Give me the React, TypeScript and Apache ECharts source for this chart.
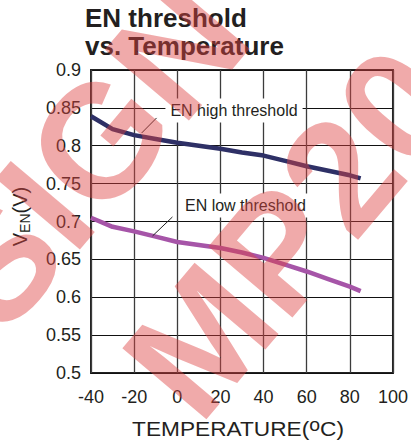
import React, { useEffect, useRef } from "react";
import * as echarts from "echarts";

// ---- data ----
const temps = [-40, -30, -20, -10, 0, 10, 20, 30, 40, 50, 60, 70, 80, 85];
const highThreshold = [0.839, 0.822, 0.814, 0.809, 0.804, 0.8, 0.796, 0.791, 0.787, 0.78, 0.773, 0.767, 0.761, 0.757];
const lowThreshold = [0.705, 0.693, 0.687, 0.68, 0.673, 0.669, 0.665, 0.659, 0.652, 0.643, 0.634, 0.624, 0.614, 0.608];

const xMin = -40;
const xMax = 100;
const xStep = 20;
const yMin = 0.5;
const yMax = 0.9;
const yStep = 0.05;

const titleText = "EN threshold\nvs. Temperature";
const highLabelText = "EN high threshold";
const highLabelAt = [26.3, 0.8465];
const highLeader = [[-16.5, 0.8169], [-9.6, 0.8367]];
const lowLabelText = "EN low threshold";
const lowLabelAt = [31.6, 0.7211];
const lowLeader = [[-11.45, 0.681], [-2.24, 0.706]];

const watermark1 = "SIGN";
const watermark2 = "MP20";

const FONT = "'Liberation Sans', Arial, Helvetica, sans-serif";
const INK = "#231f20";

export default function App() {
  const ref = useRef<HTMLDivElement>(null);

  useEffect(() => {
    if (!ref.current) return;
    const chart = echarts.init(ref.current, undefined, { renderer: "svg" });

    const labelStyle = {
      show: true,
      position: "inside" as const,
      formatter: "{b}",
      color: INK,
      fontSize: 16,
      fontFamily: FONT,
      backgroundColor: "#ffffff",
      padding: [4, 5, 4, 5],
    };

    const option: any = {
      animation: false,
      backgroundColor: "#ffffff",
      title: {
        text: titleText,
        left: 85,
        top: 4,
        padding: 0,
        textStyle: {
          fontSize: 26,
          fontWeight: "bold",
          lineHeight: 28,
          color: INK,
          fontFamily: FONT,
        },
      },
      grid: {
        left: 91,
        right: 16,
        top: 70,
        bottom: 68,
        show: true,
        borderColor: "#222",
        borderWidth: 2,
        backgroundColor: "transparent",
      },
      xAxis: {
        type: "value",
        min: xMin,
        max: xMax,
        interval: xStep,
        axisLine: { show: false },
        axisTick: { show: false },
        axisLabel: { fontSize: 18, color: INK, fontFamily: FONT, margin: 15 },
        splitLine: { show: true, lineStyle: { color: "#3c3c3c", width: 1.3 } },
      },
      yAxis: {
        type: "value",
        min: yMin,
        max: yMax,
        interval: yStep,
        axisLine: { show: false },
        axisTick: { show: false },
        axisLabel: {
          fontSize: 18,
          color: INK,
          fontFamily: FONT,
          margin: 10,
          formatter: (v: number) => String(parseFloat(v.toFixed(2))),
        },
        splitLine: { show: true, lineStyle: { color: "#111", width: 1 } },
      },
      series: [
        {
          type: "line",
          name: "EN high threshold",
          data: temps.map((t, i) => [t, highThreshold[i]]),
          symbol: "none",
          lineStyle: { color: "#2e3066", width: 4.5 },
          itemStyle: { color: "#2e3066" },
          emphasis: { disabled: true },
          markPoint: {
            symbol: "rect",
            symbolSize: 1,
            itemStyle: { color: "rgba(0,0,0,0)" },
            label: labelStyle,
            data: [{ name: highLabelText, coord: highLabelAt }],
          },
          markLine: {
            symbol: ["none", "none"],
            silent: true,
            label: { show: false },
            lineStyle: { color: "#222", width: 1, type: "solid" },
            data: [[{ coord: highLeader[0] }, { coord: highLeader[1] }]],
          },
        },
        {
          type: "line",
          name: "EN low threshold",
          data: temps.map((t, i) => [t, lowThreshold[i]]),
          symbol: "none",
          lineStyle: { color: "#a655a8", width: 4.5 },
          itemStyle: { color: "#a655a8" },
          emphasis: { disabled: true },
          markPoint: {
            symbol: "rect",
            symbolSize: 1,
            itemStyle: { color: "rgba(0,0,0,0)" },
            label: labelStyle,
            data: [{ name: lowLabelText, coord: lowLabelAt }],
          },
          markLine: {
            symbol: ["none", "none"],
            silent: true,
            label: { show: false },
            lineStyle: { color: "#222", width: 1, type: "solid" },
            data: [[{ coord: lowLeader[0] }, { coord: lowLeader[1] }]],
          },
        },
      ],
      graphic: [
        {
          type: "text",
          x: 19.75,
          y: 216.5,
          rotation: Math.PI / 2,
          silent: true,
          style: {
            text: "{v|V}{s|EN}{v|(V)}",
            align: "center",
            verticalAlign: "middle",
            fill: INK,
            rich: {
              v: { fontSize: 20, lineHeight: 24, fontFamily: FONT, fill: INK, color: INK },
              s: { fontSize: 14, lineHeight: 24, fontFamily: FONT, verticalAlign: "bottom", fill: INK, color: INK },
            },
          },
        },
        {
          type: "text",
          x: 238,
          y: 429.2,
          scaleX: 1.08,
          silent: true,
          style: {
            text: "{a|TEMPERATURE(}{o|o}{a|C)}",
            align: "center",
            verticalAlign: "middle",
            fill: INK,
            rich: {
              a: { fontSize: 21, lineHeight: 26, fontFamily: FONT, fill: INK, color: INK },
              o: { fontSize: 18, lineHeight: 26, fontFamily: FONT, verticalAlign: "top", fill: INK, color: INK },
            },
          },
        },
        {
          type: "text",
          x: 88,
          y: 154,
          rotation: 0.87,
          z: 100,
          silent: true,
          style: {
            text: watermark1,
            align: "center",
            verticalAlign: "middle",
            fill: "rgba(222,66,66,0.45)",
            font: `bold 160px ${FONT}`,
          },
        },
        {
          type: "text",
          x: 292,
          y: 232,
          rotation: 0.87,
          z: 100,
          silent: true,
          style: {
            text: watermark2,
            align: "center",
            verticalAlign: "middle",
            fill: "rgba(222,66,66,0.45)",
            font: `bold 160px ${FONT}`,
          },
        },
      ],
    };

    chart.setOption(option);
    return () => chart.dispose();
  }, []);

  return (
    <div
      ref={ref}
      style={{ position: "fixed", left: 0, top: 0, width: 411, height: 441 }}
    />
  );
}
